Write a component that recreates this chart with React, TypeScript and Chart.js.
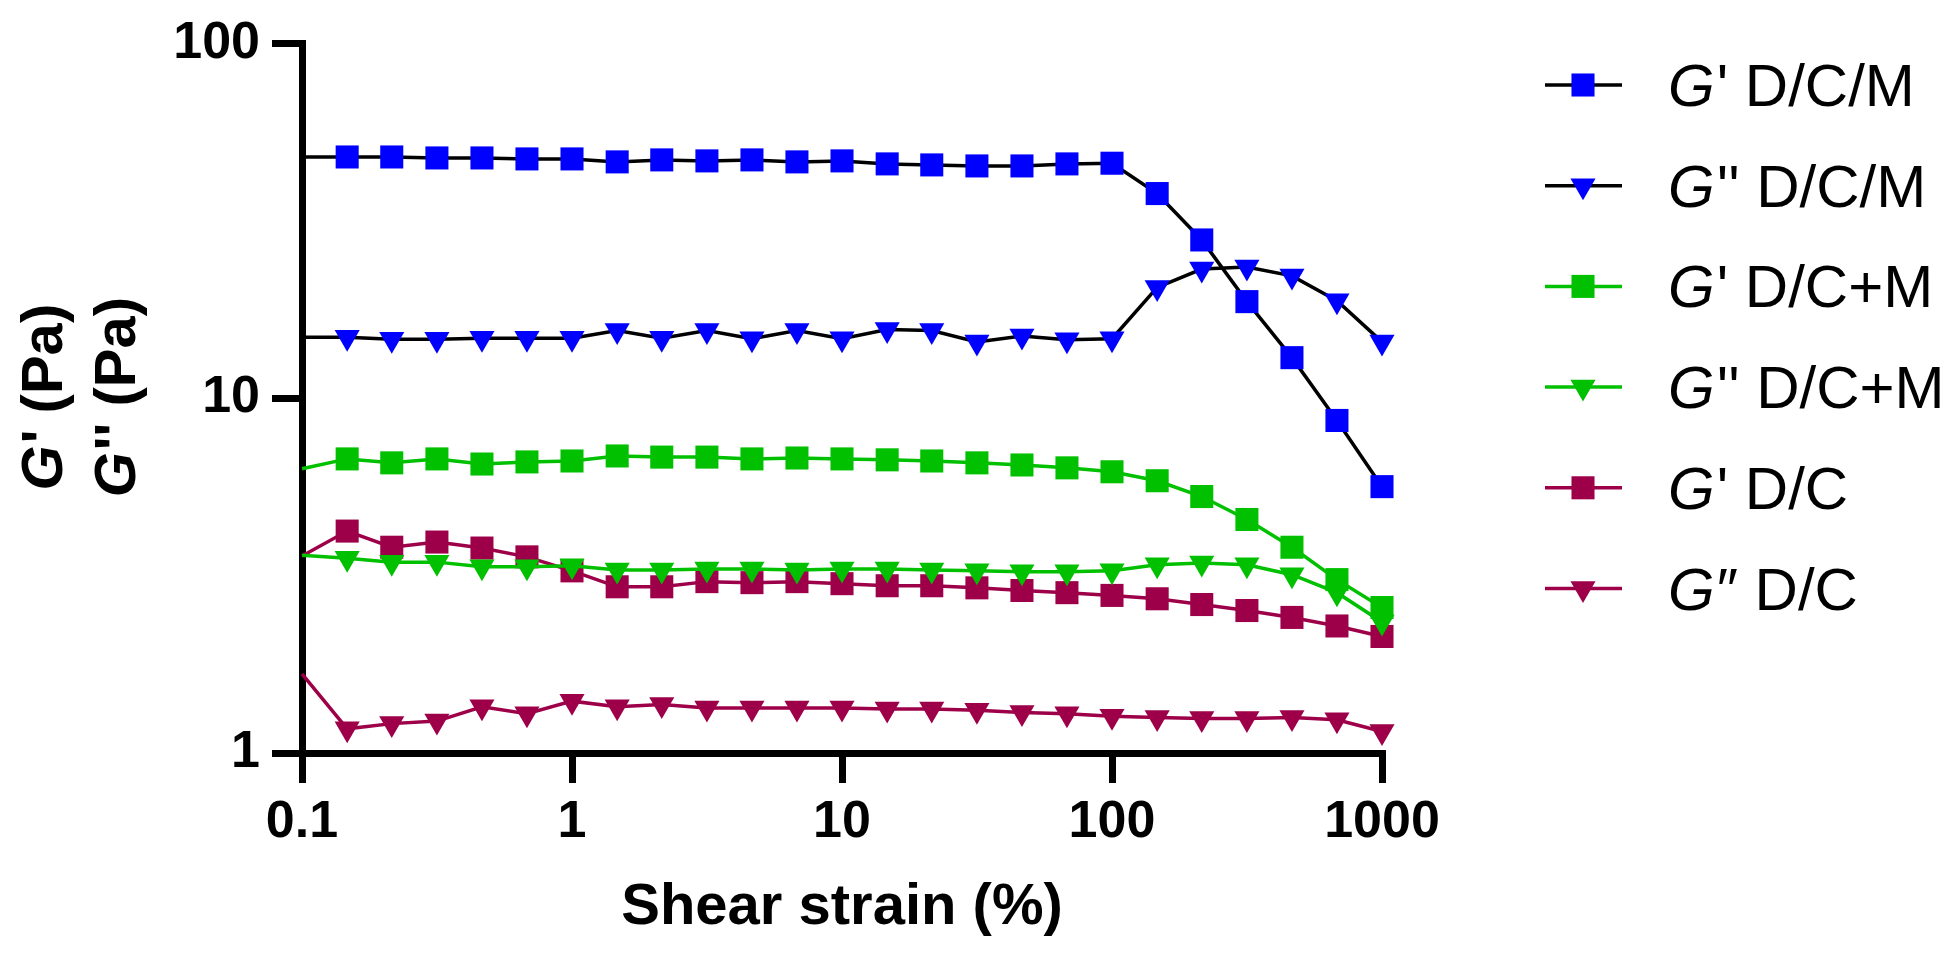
import { useEffect, useRef } from 'react';
import { Chart, registerables } from 'chart.js';

Chart.register(...registerables);

const FONT = 'Arial, "Liberation Sans", Helvetica, sans-serif';

// shear strain (%) — 6 points per decade
const strain = [
  0.1, 0.147, 0.215, 0.316, 0.464, 0.681, 1, 1.47, 2.15, 3.16, 4.64, 6.81,
  10, 14.7, 21.5, 31.6, 46.4, 68.1, 100, 147, 215, 316, 464, 681, 1000,
];

// moduli (Pa)
const gp_DCM = [
  47.8, 47.8, 47.8, 47.5, 47.5, 47.2, 47.2, 46.3, 46.9, 46.6, 46.9, 46.3,
  46.6, 45.7, 45.4, 45.1, 45.1, 45.7, 45.9, 37.7, 27.9, 18.7, 13.0, 8.65, 5.63,
];
const gpp_DCM = [
  14.85, 14.85, 14.65, 14.65, 14.75, 14.75, 14.75, 15.5, 14.75, 15.5, 14.7, 15.5,
  14.7, 15.6, 15.5, 14.4, 14.95, 14.6, 14.7, 20.5, 23.1, 23.4, 22.1, 18.8, 14.4,
];
const gp_DCplusM = [
  6.32, 6.74, 6.57, 6.74, 6.52, 6.61, 6.65, 6.87, 6.82, 6.82, 6.74, 6.78,
  6.74, 6.70, 6.65, 6.57, 6.48, 6.36, 6.20, 5.85, 5.28, 4.55, 3.80, 3.08, 2.57,
];
const gpp_DCplusM = [
  3.61, 3.54, 3.45, 3.45, 3.35, 3.35, 3.37, 3.28, 3.28, 3.30, 3.30, 3.28,
  3.30, 3.30, 3.28, 3.26, 3.24, 3.24, 3.26, 3.39, 3.43, 3.39, 3.18, 2.83, 2.34,
];
const gp_DC = [
  3.59, 4.22, 3.80, 3.93, 3.78, 3.57, 3.26, 2.94, 2.94, 3.04, 3.02, 3.04,
  3.00, 2.96, 2.96, 2.92, 2.87, 2.83, 2.78, 2.72, 2.62, 2.52, 2.41, 2.28, 2.13,
];
const gpp_DC = [
  1.67, 1.17, 1.21, 1.23, 1.35, 1.29, 1.40, 1.35, 1.37, 1.34, 1.34, 1.34,
  1.34, 1.33, 1.33, 1.32, 1.30, 1.29, 1.27, 1.26, 1.25, 1.25, 1.26, 1.24, 1.15,
];

const seriesLabels = ["G' D/C/M", "G'' D/C/M", "G' D/C+M", "G'' D/C+M", "G' D/C", 'G\u2033 D/C'];
const seriesValues = [gp_DCM, gpp_DCM, gp_DCplusM, gpp_DCplusM, gp_DC, gpp_DC];
const markerColors = ['#0000FF', '#0000FF', '#00C000', '#00C000', '#9D0049', '#9D0049'];
const lineColors = ['#000000', '#000000', '#00C000', '#00C000', '#9D0049', '#9D0049'];
const markerStyles = ['rect', 'triangle', 'rect', 'triangle', 'rect', 'triangle'];
const drawOrder = [1, 2, 3, 0, 4, 5];

const xTicks = [0.1, 1, 10, 100, 1000];
const yTicks = [1, 10, 100];
const yTitleLines = ["G' (Pa)", "G'' (Pa)"];

const RECT_R = 16.3;
const TRI_R = 14.5;

function drawMarker(ctx: CanvasRenderingContext2D, style: string, x: number, y: number, color: string) {
  ctx.save();
  ctx.fillStyle = color;
  ctx.beginPath();
  if (style === 'rect') {
    const s = RECT_R * Math.SQRT1_2;
    ctx.rect(x - s, y - s, 2 * s, 2 * s);
  } else {
    const r = TRI_R;
    ctx.moveTo(x, y + r);
    ctx.lineTo(x - r * 0.866, y - r / 2);
    ctx.lineTo(x + r * 0.866, y - r / 2);
    ctx.closePath();
  }
  ctx.fill();
  ctx.restore();
}

// text whose first letter (G) is italic
function fillItalicG(ctx: CanvasRenderingContext2D, text: string, x: number, y: number, size: number, weight: string, center: boolean) {
  const head = text.slice(0, 1);
  const rest = text.slice(1);
  ctx.font = `italic ${weight} ${size}px ${FONT}`;
  const wHead = ctx.measureText(head).width;
  ctx.font = `${weight} ${size}px ${FONT}`;
  const wRest = ctx.measureText(rest).width;
  const start = center ? x - (wHead + wRest) / 2 : x;
  ctx.textAlign = 'left';
  ctx.textBaseline = 'alphabetic';
  ctx.font = `italic ${weight} ${size}px ${FONT}`;
  ctx.fillText(head, start, y);
  ctx.font = `${weight} ${size}px ${FONT}`;
  ctx.fillText(rest, start + wHead + 2, y);
}

const extrasPlugin = {
  id: 'extras',
  afterDraw(chart: Chart) {
    const ctx = chart.ctx;
    ctx.save();
    ctx.fillStyle = '#000';

    // y axis title, two rotated lines
    const cy = (chart.chartArea.top + chart.chartArea.bottom) / 2;
    [62, 135].forEach((bx, i) => {
      ctx.save();
      ctx.translate(bx, cy);
      ctx.rotate(-Math.PI / 2);
      ctx.fillStyle = '#000';
      fillItalicG(ctx, yTitleLines[i], 0, 0, 58, 'bold', true);
      ctx.restore();
    });

    // legend
    seriesLabels.forEach((label, i) => {
      const y = 85 + i * 100.7;
      ctx.strokeStyle = lineColors[i];
      ctx.lineWidth = 3.5;
      ctx.beginPath();
      ctx.moveTo(1545, y);
      ctx.lineTo(1622, y);
      ctx.stroke();
      drawMarker(ctx, markerStyles[i], 1583, y, markerColors[i]);
      ctx.fillStyle = '#000';
      fillItalicG(ctx, label, 1668, y + 21, 60, 'normal', false);
    });
    ctx.restore();
  },
};

const axisGrid = {
  display: true,
  drawOnChartArea: false,
  drawTicks: true,
  tickLength: 30,
  tickWidth: 7,
  tickColor: '#000',
  color: '#000',
  lineWidth: 7,
};

export default function App() {
  const canvasRef = useRef<HTMLCanvasElement>(null);
  const chartRef = useRef<Chart | null>(null);

  useEffect(() => {
    document.body.style.margin = '0';
    if (!canvasRef.current) return;
    if (chartRef.current) chartRef.current.destroy();

    chartRef.current = new Chart(canvasRef.current, {
      type: 'line',
      data: {
        datasets: seriesValues.map((vals, i) => ({
          label: seriesLabels[i],
          data: vals.map((v, j) => ({ x: strain[j], y: v })),
          borderColor: lineColors[i],
          borderWidth: 3.5,
          backgroundColor: markerColors[i],
          pointBackgroundColor: markerColors[i],
          pointBorderWidth: 0,
          pointStyle: markerStyles[i] as any,
          pointRotation: markerStyles[i] === 'triangle' ? 180 : 0,
          pointRadius: (c: any) => (c.dataIndex === 0 ? 0 : markerStyles[i] === 'rect' ? RECT_R : TRI_R),
          pointHoverRadius: 0,
          tension: 0,
          fill: false,
          clip: false as any,
          order: drawOrder[i],
        })),
      },
      options: {
        animation: false,
        responsive: true,
        maintainAspectRatio: false,
        layout: { padding: { top: 35, right: 578, bottom: 0, left: 0 } },
        plugins: {
          legend: { display: false },
          tooltip: { enabled: false },
        },
        scales: {
          x: {
            type: 'logarithmic',
            min: 0.1,
            max: 1000,
            afterBuildTicks: (s: any) => {
              s.ticks = xTicks.map((v) => ({ value: v, major: true }));
            },
            afterFit: (s: any) => {
              s.height = 218;
            },
            ticks: {
              callback: (v: any) => String(v),
              font: { family: FONT, size: 52, weight: 'bold' },
              color: '#000',
              padding: 8,
              maxRotation: 0,
              autoSkip: false,
            },
            grid: axisGrid,
            border: { display: true, color: '#000', width: 7 },
            title: {
              display: true,
              text: 'Shear strain (%)',
              font: { family: FONT, size: 58, weight: 'bold' },
              color: '#000',
              padding: { top: 0, bottom: 28 },
            },
          },
          y: {
            type: 'logarithmic',
            min: 1,
            max: 100,
            afterBuildTicks: (s: any) => {
              s.ticks = yTicks.map((v) => ({ value: v, major: true }));
            },
            afterFit: (s: any) => {
              s.width = 302;
            },
            ticks: {
              callback: (v: any) => String(v),
              font: { family: FONT, size: 52, weight: 'bold' },
              color: '#000',
              padding: 12,
              autoSkip: false,
            },
            grid: axisGrid,
            border: { display: true, color: '#000', width: 7 },
            title: { display: false },
          },
        },
      },
      plugins: [extrasPlugin],
    });

    return () => {
      if (chartRef.current) {
        chartRef.current.destroy();
        chartRef.current = null;
      }
    };
  }, []);

  return (
    <div style={{ position: 'relative', width: '1960px', height: '971px', background: '#fff' }}>
      <canvas ref={canvasRef}></canvas>
    </div>
  );
}
